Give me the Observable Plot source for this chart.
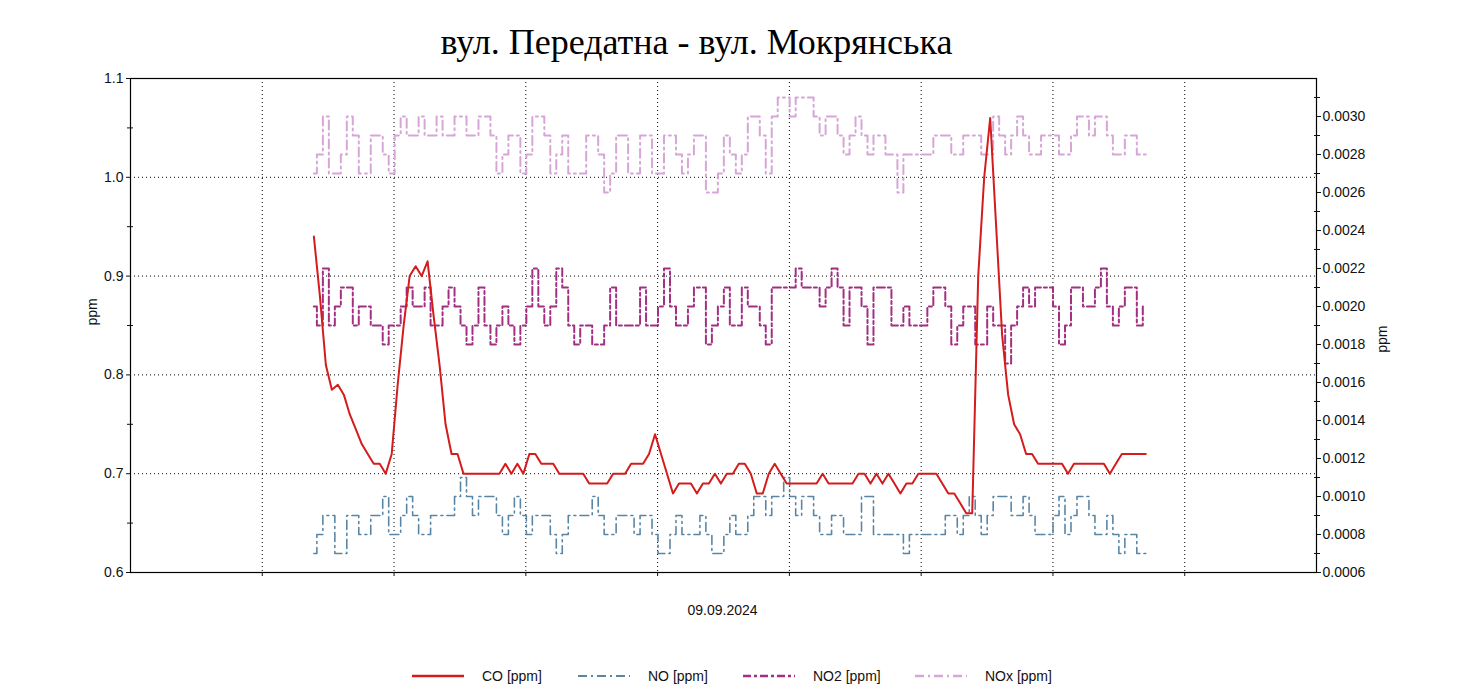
<!DOCTYPE html>
<html>
<head>
<meta charset="utf-8">
<script src="https://cdn.jsdelivr.net/npm/d3@7"></script>
<script src="https://cdn.jsdelivr.net/npm/@observablehq/plot@0.6"></script>
<style>
  html, body { margin: 0; padding: 0; background: #fff; }
  body { width: 1471px; height: 697px; position: relative; overflow: hidden; font-family: "Liberation Sans", Arial, sans-serif; color: #111; }
  #title { height: 70px; box-sizing: border-box; padding-top: 24px; padding-right: 78px; text-align: center; font-family: "Liberation Serif", "Times New Roman", serif; font-size: 36px; line-height: 1; color: #000; }
  #chart { height: 560px; }
  #legend { position: relative; height: 67px; }
  .item { position: absolute; top: 36px; height: 20px; display: flex; align-items: center; font-size: 14px; color: #111; white-space: nowrap; }
  .item svg { margin-right: 18px; }
</style>
</head>
<body>
<div id="title">вул. Передатна - вул. Мокрянська</div>
<div id="chart"></div>
<div id="legend"></div>
<script>
// ---- data ----
const seriesNames = ["CO [ppm]", "NO [ppm]", "NO2 [ppm]", "NOx [ppm]"];
const dateLabel = "09.09.2024";
const axisTitle = "ppm";
const startMinute = 167;     // time of first sample (minutes on the axis)
const stepMinutes = 5.45;    // sampling step

const co = [0.94,0.88,0.81,0.785,0.79,0.78,0.76,0.745,0.73,0.72,
0.71,0.71,0.70,0.72,0.79,0.85,0.90,0.91,0.90,0.915,
0.86,0.81,0.75,0.72,0.72,0.70,0.70,0.70,0.70,0.70,
0.70,0.70,0.71,0.70,0.71,0.70,0.72,0.72,0.71,0.71,
0.71,0.70,0.70,0.70,0.70,0.70,0.69,0.69,0.69,0.69,
0.70,0.70,0.70,0.71,0.71,0.71,0.72,0.74,0.72,0.70,
0.68,0.69,0.69,0.69,0.68,0.69,0.69,0.70,0.69,0.70,
0.70,0.71,0.71,0.70,0.68,0.68,0.70,0.71,0.70,0.69,
0.69,0.69,0.69,0.69,0.69,0.70,0.69,0.69,0.69,0.69,
0.69,0.70,0.70,0.69,0.70,0.69,0.70,0.69,0.68,0.69,
0.69,0.70,0.70,0.70,0.70,0.69,0.68,0.68,0.67,0.66,
0.66,0.90,1.00,1.06,0.95,0.84,0.78,0.75,0.74,0.72,
0.72,0.71,0.71,0.71,0.71,0.71,0.70,0.71,0.71,0.71,
0.71,0.71,0.71,0.70,0.71,0.72,0.72,0.72,0.72,0.72];

const no = [0.0007,0.0008,0.0009,0.0009,0.0007,0.0007,0.0009,0.0009,0.0008,0.0008,
0.0009,0.0009,0.0010,0.0008,0.0008,0.0009,0.0010,0.0009,0.0008,0.0008,
0.0009,0.0009,0.0009,0.0009,0.0010,0.0011,0.0010,0.0009,0.0010,0.0010,
0.0010,0.0009,0.0008,0.0009,0.0010,0.0009,0.0008,0.0009,0.0009,0.0009,
0.0008,0.0007,0.0008,0.0009,0.0009,0.0009,0.0009,0.0010,0.0009,0.0008,
0.0008,0.0009,0.0009,0.0009,0.0008,0.0009,0.0009,0.0008,0.0007,0.0007,
0.0008,0.0009,0.0008,0.0008,0.0008,0.0009,0.0008,0.0007,0.0007,0.0008,
0.0009,0.0008,0.0008,0.0009,0.0010,0.0010,0.0009,0.0010,0.0010,0.0011,
0.0010,0.0009,0.0010,0.0010,0.0009,0.0008,0.0008,0.0009,0.0009,0.0008,
0.0008,0.0008,0.0010,0.0010,0.0008,0.0008,0.0008,0.0008,0.0008,0.0007,
0.0008,0.0008,0.0008,0.0008,0.0008,0.0008,0.0009,0.0009,0.0008,0.0009,
0.0010,0.0009,0.0008,0.0009,0.0010,0.0010,0.0010,0.0009,0.0009,0.0010,
0.0009,0.0008,0.0008,0.0008,0.0009,0.0010,0.0008,0.0009,0.0010,0.0010,
0.0009,0.0008,0.0008,0.0009,0.0008,0.0007,0.0008,0.0008,0.0007,0.0007];

const no2 = [0.0020,0.0019,0.0022,0.0019,0.0020,0.0021,0.0021,0.0019,0.0020,0.0020,
0.0019,0.0019,0.0018,0.0019,0.0019,0.0020,0.0021,0.0020,0.0020,0.0021,
0.0019,0.0019,0.0020,0.0021,0.0020,0.0019,0.0018,0.0019,0.0021,0.0019,
0.0018,0.0019,0.0020,0.0019,0.0018,0.0019,0.0020,0.0022,0.0020,0.0019,
0.0020,0.0022,0.0021,0.0019,0.0018,0.0019,0.0019,0.0018,0.0018,0.0019,
0.0021,0.0019,0.0019,0.0019,0.0019,0.0021,0.0019,0.0019,0.0020,0.0022,
0.0020,0.0019,0.0019,0.0020,0.0021,0.0021,0.0018,0.0019,0.0020,0.0021,
0.0019,0.0019,0.0021,0.0020,0.0020,0.0019,0.0018,0.0021,0.0021,0.0021,
0.0021,0.0022,0.0021,0.0021,0.0021,0.0020,0.0021,0.0022,0.0021,0.0019,
0.0021,0.0021,0.0020,0.0018,0.0021,0.0021,0.0021,0.0019,0.0019,0.0020,
0.0019,0.0019,0.0019,0.0020,0.0021,0.0021,0.0020,0.0018,0.0019,0.0020,
0.0020,0.0018,0.0018,0.0020,0.0019,0.0019,0.0017,0.0019,0.0020,0.0021,
0.0020,0.0021,0.0021,0.0021,0.0020,0.0018,0.0019,0.0021,0.0021,0.0020,
0.0020,0.0021,0.0022,0.0020,0.0019,0.0020,0.0021,0.0021,0.0019,0.0020];

const nox = [0.0027,0.0028,0.0030,0.0027,0.0027,0.0028,0.0030,0.0029,0.0027,0.0027,
0.0029,0.0029,0.0028,0.0027,0.0029,0.0030,0.0029,0.0029,0.0030,0.0029,
0.0029,0.0030,0.0029,0.0029,0.0030,0.0030,0.0029,0.0029,0.0030,0.0030,
0.0029,0.0027,0.0028,0.0029,0.0029,0.0027,0.0028,0.0030,0.0030,0.0029,
0.0027,0.0028,0.0029,0.0027,0.0027,0.0027,0.0029,0.0029,0.0028,0.0026,
0.0027,0.0029,0.0029,0.0027,0.0027,0.0029,0.0029,0.0027,0.0027,0.0029,
0.0029,0.0028,0.0027,0.0028,0.0029,0.0029,0.0026,0.0026,0.0027,0.0029,
0.0028,0.0027,0.0028,0.0030,0.0030,0.0029,0.0027,0.0030,0.0031,0.0031,
0.0030,0.0031,0.0031,0.0031,0.0030,0.0029,0.0030,0.0030,0.0029,0.0028,
0.0029,0.0030,0.0029,0.0028,0.0029,0.0029,0.0028,0.0028,0.0026,0.0028,
0.0028,0.0028,0.0028,0.0028,0.0029,0.0029,0.0029,0.0028,0.0028,0.0029,
0.0029,0.0029,0.0028,0.0028,0.0030,0.0029,0.0028,0.0029,0.0030,0.0029,
0.0028,0.0028,0.0029,0.0029,0.0029,0.0028,0.0028,0.0029,0.0030,0.0030,
0.0029,0.0030,0.0030,0.0029,0.0028,0.0028,0.0029,0.0029,0.0028,0.0028];

// axis ticks
const leftTicks = [0.6, 0.7, 0.8, 0.9, 1.0, 1.1];
const leftMinorTicks = [0.65, 0.75, 0.85, 0.95, 1.05];
const rightTicks = [0.0006,0.0008,0.0010,0.0012,0.0014,0.0016,0.0018,0.0020,0.0022,0.0024,0.0026,0.0028,0.0030];
const rightMinorTicks = [0.0007,0.0009,0.0011,0.0013,0.0015,0.0017,0.0019,0.0021,0.0023,0.0025,0.0027,0.0029,0.0031];
const xTicks = [120, 240, 360, 480, 600, 720, 840, 960];
const xDomain = [0, 1080];
const leftDomain = [0.6, 1.1];
const rightDomain = [0.0006, 0.0032];

// styles
const colors = ["#d41c1c", "#5a86a5", "#a32f82", "#d6a6d6"];
const widths = [2, 1.6, 2, 2];
const dashes = [null, "9,4,2,4", "8,3,3,3", "9,4,2,4"];
const curves = ["linear", "step", "step", "step"];

// ---- build ----
const toLeft = d3.scaleLinear().domain(rightDomain).range(leftDomain);
function rows(vals, right) {
  return vals.map((v, i) => ({ t: startMinute + i * stepMinutes, y: right ? toLeft(v) : v }));
}
const dataSets = [rows(co, false), rows(no, true), rows(no2, true), rows(nox, true)];

const lineMark = (k) => Plot.line(dataSets[k], {
  x: "t", y: "y", stroke: colors[k], strokeWidth: widths[k],
  strokeDasharray: dashes[k] || undefined, curve: curves[k], strokeLinejoin: "round"
});

const chart = Plot.plot({
  width: 1471,
  height: 560,
  marginTop: 8,
  marginBottom: 58,
  marginLeft: 130,
  marginRight: 155,
  style: { fontFamily: "'Liberation Sans', Arial, sans-serif", fontSize: "14px", color: "#111", background: "#fff" },
  x: { type: "linear", domain: xDomain },
  y: { type: "linear", domain: leftDomain },
  marks: [
    Plot.gridY([0.7, 0.8, 0.9, 1.0], { stroke: "#000", strokeOpacity: 1, strokeDasharray: "1,3" }),
    Plot.gridX(xTicks, { stroke: "#000", strokeOpacity: 1, strokeDasharray: "1,3" }),
    lineMark(3),
    lineMark(2),
    lineMark(1),
    lineMark(0),
    Plot.frame({ stroke: "#000", strokeWidth: 1.2 }),
    Plot.axisY(leftTicks, { anchor: "left", tickSize: 4, tickPadding: 3, tickFormat: d3.format(".1f"), label: null, fontSize: 14 }),
    Plot.axisY(leftMinorTicks, { anchor: "left", tickSize: 6, dx: 3, tickFormat: () => "", label: null }),
    Plot.axisY(rightTicks.map(toLeft), { anchor: "right", tickSize: 4, tickPadding: 2, tickFormat: d => d3.format(".4f")(toLeft.invert(d)), label: null, fontSize: 14 }),
    Plot.axisY(rightMinorTicks.map(toLeft), { anchor: "right", tickSize: 6, dx: -3, tickFormat: () => "", label: null }),
    Plot.axisX(xTicks, { anchor: "bottom", tickSize: 4, tickFormat: () => "", label: null }),
    Plot.text([axisTitle], { text: d => d, frameAnchor: "left", dx: -38, rotate: -90, fontSize: 14, fill: "#111" }),
    Plot.text([axisTitle], { text: d => d, frameAnchor: "right", dx: 66, rotate: -90, fontSize: 14, fill: "#111" }),
    Plot.text([dateLabel], { text: d => d, frameAnchor: "bottom", dy: 42, dx: -1, fontSize: 14, fill: "#111" })
  ]
});
document.getElementById("chart").appendChild(chart);

// ---- legend ----
const legendX = [412, 578, 743, 915];
const legend = document.getElementById("legend");
seriesNames.forEach((name, k) => {
  const item = document.createElement("div");
  item.className = "item";
  item.style.left = legendX[k] + "px";
  const dash = dashes[k] ? `stroke-dasharray="${dashes[k]}"` : "";
  item.innerHTML = `<svg width="52" height="10"><line x1="0" y1="5" x2="52" y2="5" stroke="${colors[k]}" stroke-width="${widths[k] + 0.4}" ${dash}/></svg><span>${name}</span>`;
  legend.appendChild(item);
});
</script>
</body>
</html>
